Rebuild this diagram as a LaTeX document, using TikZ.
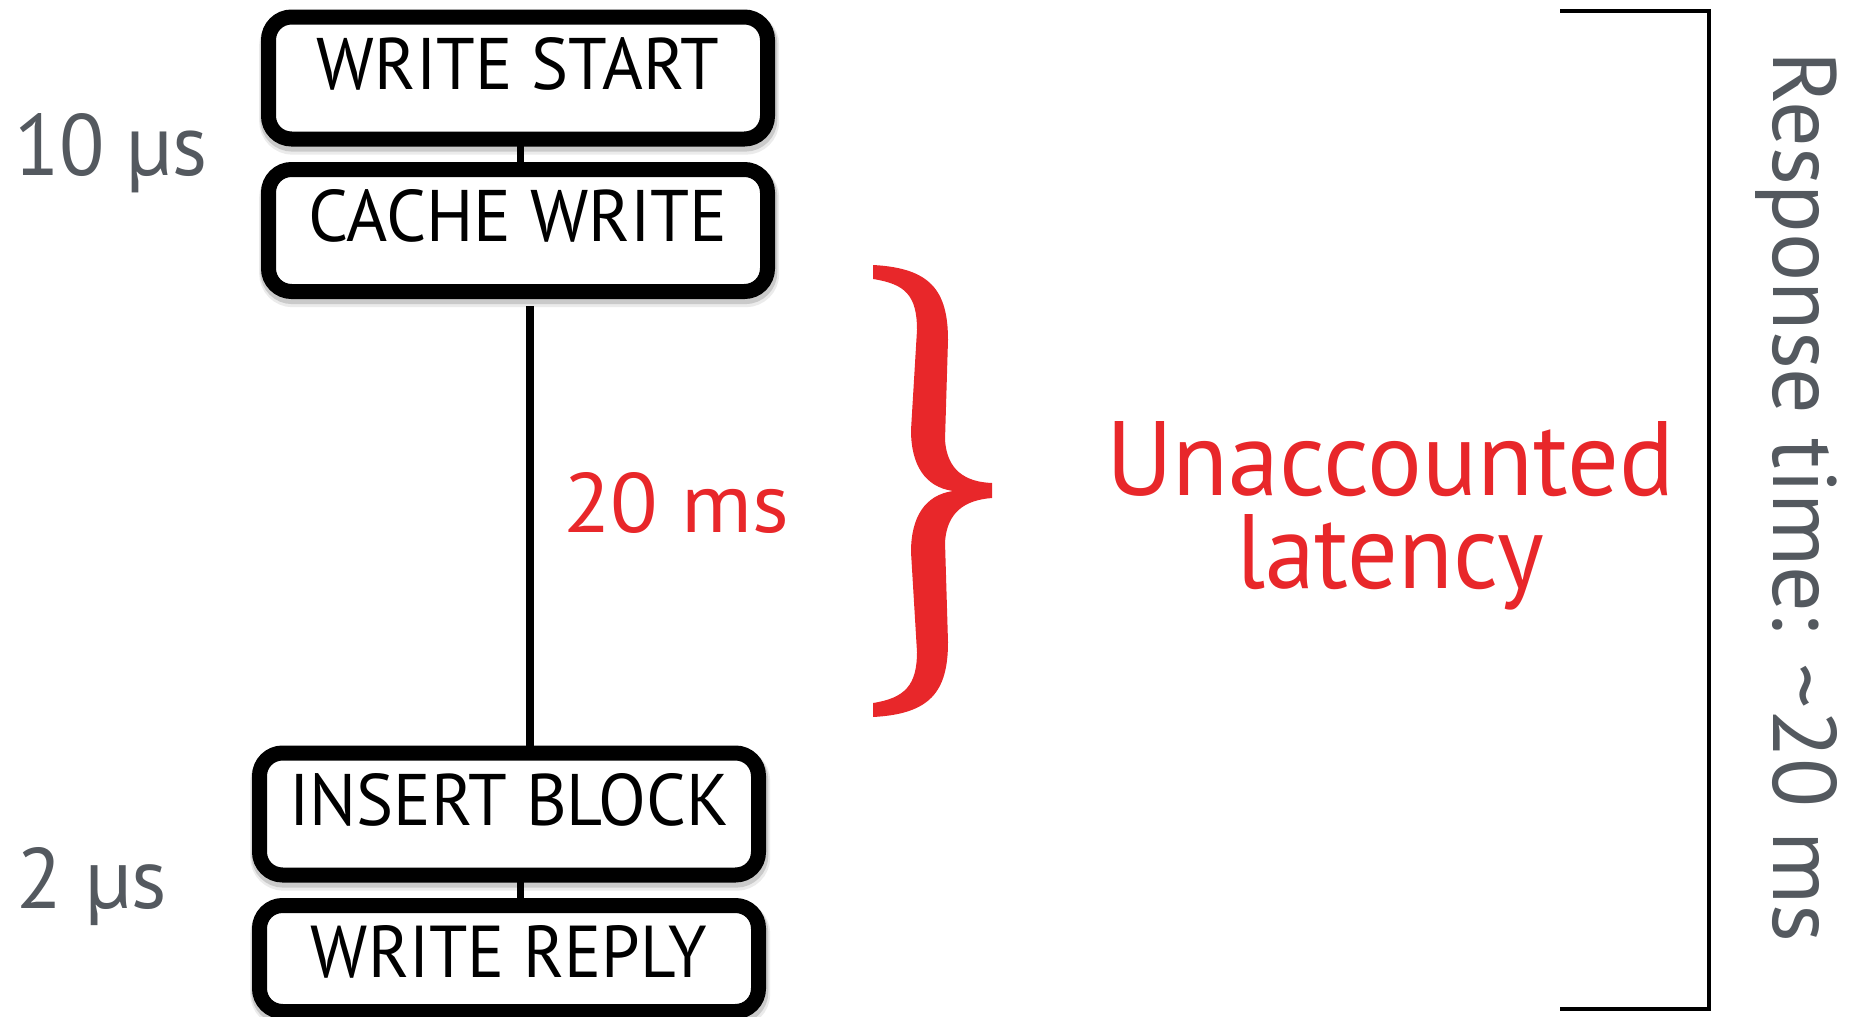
\documentclass[tikz,border=0pt]{standalone}
\usepackage{fontspec}
\setmainfont{PT Sans}
\usepackage{graphicx}
\definecolor{labelgray}{HTML}{54595F}
\definecolor{latred}{HTML}{E8272A}
% set a text to an exact width and height
\newcommand\sized[3]{\resizebox{#1}{#2}{#3}}

\begin{document}
\begin{tikzpicture}[x=0.5pt,y=-0.5pt,
  stage/.style={draw=black, line width=7.5pt, rounded corners=11.5pt, fill=white,
    minimum width=249.5pt, inner sep=0pt, outer sep=0pt,
    text height=36pt, text depth=25pt, anchor=north west,
    preaction={draw=black, opacity=0.08, line width=10.5pt,
      transform canvas={xshift=0.6pt, yshift=-2.6pt}},
    preaction={draw=black, opacity=0.14, line width=9pt,
      transform canvas={xshift=0.4pt, yshift=-1.8pt}}},
  link/.style={draw=black, line width=3.5pt},
  lab/.style={inner sep=0pt, outer sep=0pt, anchor=base west, text=labelgray},
  redlab/.style={inner sep=0pt, outer sep=0pt, anchor=base west, text=latred},
]
\useasboundingbox (0,0) rectangle (1853,1017);

% request stages
\node[stage] (ws) at (268.5,17)    {\sized{201pt}{26pt}{WRITE START}};
\node[stage] (cw) at (268.5,169.5) {\sized{209.5pt}{26pt}{CACHE WRITE}};
\node[stage] (ib) at (259.5,753)   {\sized{219.5pt}{26pt}{INSERT BLOCK}};
\node[stage, text depth=17pt] (wr) at (259.5,905.5) {\sized{198pt}{26pt}{WRITE REPLY}};

% links between stages
\draw[link] ([xshift=1pt]ws.south) -- ([xshift=1pt]cw.north);
\draw[link, line width=4pt, shorten <=7.25pt] ([xshift=6pt]cw.south) -- ([xshift=6pt]cw.south |- ib.north);
\draw[link] ([xshift=5.5pt]ib.south) -- ([xshift=5.5pt]ib.south |- wr.north);

% timings
\node[lab] (t10) at (14,175)  {\sized{97pt}{31pt}{10 µs}};
\node[lab] (t2)  at (17,908)  {\sized{75pt}{30.5pt}{2 µs}};
\node[redlab] (t20) at (563,532) {\sized{113pt}{30pt}{20 ms}};

% red curly brace
\fill[latred]
  (873,265) .. controls (930,268) and (948,290) .. (948,340)
  -- (945,440) .. controls (947,470) and (965,482) .. (992,483)
  -- (992,498) .. controls (965,500) and (947,512) .. (945,542)
  -- (948,642) .. controls (948,692) and (930,714) .. (873,717)
  -- (873,703) .. controls (905,698) and (917,685) .. (917,652)
  -- (911,552) .. controls (911,517) and (925,495) .. (953,491)
  .. controls (925,487) and (911,465) .. (911,430)
  -- (917,330) .. controls (917,295) and (905,284) .. (873,279) -- cycle;

\node[redlab] (un) at (1106,495) {\sized{284pt}{37pt}{Unaccounted}};
\node[redlab] (la) at (1236,588) {\sized{154pt}{37pt}{latency}};

% response-time bracket
\coordinate (bt) at (1560,11);
\coordinate (btr) at (1709,11);
\coordinate (bbr) at (1709,1009);
\coordinate (bb) at (1560,1009);
\draw[line width=2pt] (bt) -- (btr) -- (bbr) -- (bb);
\node[lab, rotate=-90] (rt) at (1773,52) {\sized{445pt}{32pt}{Response time: \textasciitilde20 ms}};
\end{tikzpicture}
\end{document}
